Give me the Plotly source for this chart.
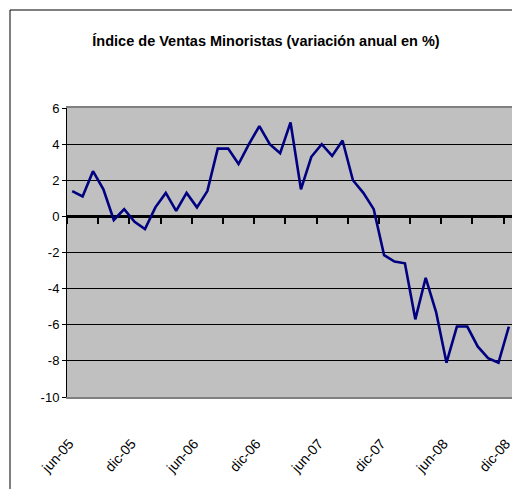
import plotly.graph_objects as go

# ---- data ----
months = ["ene", "feb", "mar", "abr", "may", "jun", "jul", "ago", "sep", "oct", "nov", "dic"]
start_year, start_month, n_points = 2005, 6, 43
categories = []
for i in range(n_points):
    m = start_month - 1 + i
    categories.append(f"{months[m % 12]}-{(start_year + m // 12) % 100:02d}")

values = [1.4, 1.1, 2.5, 1.5, -0.2, 0.4, -0.3, -0.7, 0.5, 1.3,
          0.3, 1.3, 0.5, 1.4, 3.75, 3.75, 2.9, 4.0, 5.0, 4.0,
          3.5, 5.2, 1.5, 3.3, 4.0, 3.35, 4.2, 2.0, 1.3, 0.4,
          -2.15, -2.5, -2.6, -5.7, -3.4, -5.3, -8.1, -6.1, -6.1, -7.2,
          -7.85, -8.1, -6.1]

label_step = 6
tick_idx = list(range(0, n_points, label_step))
tick_text = [categories[i] for i in tick_idx]

y_ticks = list(range(-10, 7, 2))
y_tick_text = [str(v) for v in y_ticks]

title = "Índice de Ventas Minoristas (variación anual en %)"

FONT = "Liberation Sans, Arial, sans-serif"

x_idx = list(range(n_points))

W, H = 512, 489
L, T = 67, 108
PLOT_W, PLOT_H = 512 - 67, 397 - 108
B = H - T - PLOT_H

fig = go.Figure()
# invisible trace to anchor the labelled bottom axis
fig.add_trace(go.Scatter(
    x=x_idx, y=values, mode="lines", xaxis="x", yaxis="y",
    line=dict(color="rgba(0,0,0,0)", width=0),
    hoverinfo="skip", showlegend=False,
))
fig.add_trace(go.Scatter(
    x=x_idx, y=values, mode="lines", xaxis="x2", yaxis="y",
    line=dict(color="#000080", width=2.6),
    hoverinfo="skip", showlegend=False,
))

xr = [-0.5, 42.3]

fig.update_layout(
    width=W, height=H,
    margin=dict(l=L, r=0, t=T, b=B, autoexpand=False),
    paper_bgcolor="white",
    plot_bgcolor="#C0C0C0",
    showlegend=False,
    font=dict(family=FONT, color="black", size=13),
    title=dict(text="<b>" + title + "</b>", x=266 / W, xanchor="center",
               y=1 - 41 / H, yanchor="middle",
               font=dict(family=FONT, size=14.5, color="black")),
    xaxis=dict(
        range=xr, tickmode="array", tickvals=tick_idx, ticktext=tick_text,
        tickangle=-48, showgrid=False, zeroline=False,
        showline=True, linecolor="#808080", linewidth=2, mirror=True,
        ticks="", ticklabelstandoff=31, ticklabelshift=-3,
        ticklabeloverflow="allow",
        tickfont=dict(family=FONT, size=14, color="black"),
    ),
    xaxis2=dict(
        range=xr, overlaying="x", anchor="free", position=10 / 16,
        showline=True, linecolor="black", linewidth=3,
        showgrid=False, zeroline=False, showticklabels=False,
        tickmode="linear", tick0=-0.5, dtick=3,
        ticks="outside", ticklen=6, tickwidth=2, tickcolor="black",
        layer="below traces",
    ),
    yaxis=dict(
        range=[-10, 6], tickmode="array", tickvals=y_ticks, ticktext=y_tick_text,
        showgrid=True, gridcolor="black", gridwidth=1,
        zeroline=False, showline=True, linecolor="black", linewidth=1,
        ticks="outside", ticklen=4, tickcolor="black",
        tickfont=dict(family=FONT, size=13, color="black"),
    ),
    shapes=[dict(type="rect", xref="paper", yref="paper",
                 x0=(10 - 67) / PLOT_W, x1=1.1, y0=-0.5, y1=(397 - 10) / PLOT_H,
                 line=dict(color="black", width=1), fillcolor="rgba(0,0,0,0)",
                 layer="below")],
)

fig.write_html(
    "out.html",
    config={"displayModeBar": False, "staticPlot": True},
    post_script="document.body.style.margin='0';document.body.style.overflow='hidden';",
)
